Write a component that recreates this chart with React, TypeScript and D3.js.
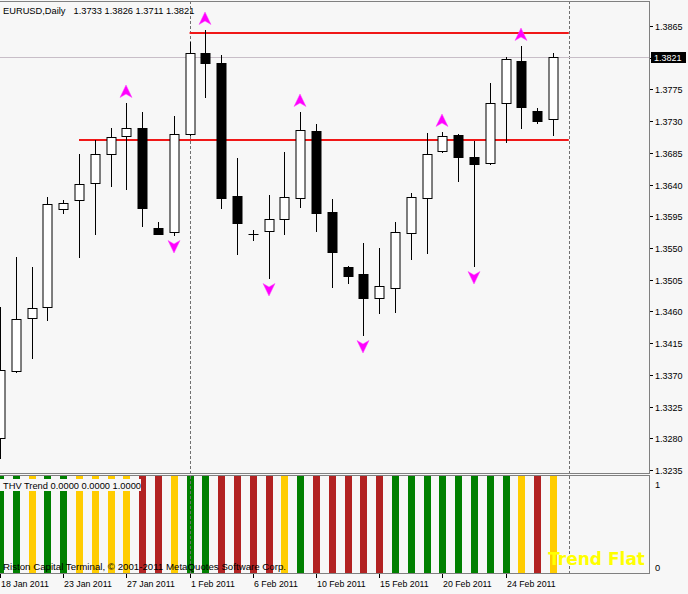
import React from "react";
import * as d3 from "d3";

// ---- data ----
const dates = [
  "18 Jan 2011","19 Jan 2011","20 Jan 2011","21 Jan 2011","23 Jan 2011","24 Jan 2011","25 Jan 2011","26 Jan 2011",
  "27 Jan 2011","28 Jan 2011","30 Jan 2011","31 Jan 2011","1 Feb 2011","2 Feb 2011","3 Feb 2011","4 Feb 2011",
  "6 Feb 2011","7 Feb 2011","8 Feb 2011","9 Feb 2011","10 Feb 2011","11 Feb 2011","13 Feb 2011","14 Feb 2011",
  "15 Feb 2011","16 Feb 2011","17 Feb 2011","18 Feb 2011","20 Feb 2011","21 Feb 2011","22 Feb 2011","23 Feb 2011",
  "24 Feb 2011","25 Feb 2011","27 Feb 2011","28 Feb 2011",
];
const opens = [1.3280,1.3376,1.3451,1.3466,1.3605,1.3618,1.3642,1.3683,1.3709,1.3720,1.3578,1.3573,1.3712,1.3827,1.3813,1.3624,1.3570,1.3574,1.3591,1.3621,1.3716,1.3601,1.3523,1.3513,1.3479,1.3493,1.3571,1.3621,1.3688,1.3710,1.3679,1.3671,1.3756,1.3815,1.3744,1.3733];
const highs = [1.3466,1.3537,1.3523,1.3622,1.3618,1.3683,1.3703,1.3720,1.3756,1.3743,1.3587,1.3737,1.3842,1.3859,1.3824,1.3678,1.3576,1.3625,1.3686,1.3743,1.3726,1.3620,1.3525,1.3557,1.3550,1.3587,1.3628,1.3713,1.3715,1.3712,1.3702,1.3784,1.3821,1.3837,1.3749,1.3826];
const lows = [1.3252,1.3374,1.3394,1.3448,1.3600,1.3537,1.3570,1.3638,1.3634,1.3581,1.3570,1.3569,1.3710,1.3764,1.3607,1.3542,1.3561,1.3508,1.3570,1.3608,1.3574,1.3495,1.3500,1.3427,1.3458,1.3459,1.3534,1.3543,1.3686,1.3645,1.3525,1.3669,1.3700,1.3720,1.3727,1.3711];
const closes = [1.3377,1.3449,1.3465,1.3612,1.3614,1.3641,1.3683,1.3708,1.3720,1.3607,1.3570,1.3712,1.3827,1.3813,1.3621,1.3586,1.3570,1.3591,1.3622,1.3717,1.3600,1.3544,1.3510,1.3479,1.3496,1.3573,1.3622,1.3683,1.3709,1.3679,1.3669,1.3756,1.3818,1.3750,1.3730,1.3821];
// THV trend state per bar: G = up, Y = flat, R = down
const trendState = ["G","G","Y","G","G","Y","Y","Y","Y","R","R","Y","G","G","R","R","R","R","Y","G","R","R","R","R","R","G","G","G","G","G","G","G","G","Y","R","Y"];
const upArrows = [8, 13, 19, 28, 33];
const downArrows = [11, 17, 23, 30];
const levels = [
  { price: 1.3855, from: 12, to: 36 },
  { price: 1.3703, from: 5, to: 36 },
];
const separators = [12, 36];
const priceTicks = [1.3865,1.3820,1.3775,1.3730,1.3685,1.3640,1.3595,1.3550,1.3505,1.3460,1.3415,1.3370,1.3325,1.3280,1.3235];
const dateTickEvery = 4;
const lastPrice = 1.3821;
const title = "EURUSD,Daily  1.3733 1.3826 1.3711 1.3821";
const indTitle = "THV Trend 0.0000 0.0000 1.0000";
const copyright = "Riston Capital Terminal, \u00A9 2001-2011 MetaQuotes Software Corp.";
const trendLabel = "Trend Flat";

const W = 688, H = 594;
const plotRight = 649;
const mainTop = 1, mainBottom = 473;
const indTop = 476, indBottom = 573;
const colors: Record<string, string> = { G: "#008000", Y: "#FFCC00", R: "#B22222" };
const BG = "#F7F7F7";
const FONT = "'Liberation Sans', Arial, sans-serif";

export default function App() {
  const x = d3.scaleLinear().domain([0, 35]).range([0, 553]);
  const y = d3.scaleLinear().domain([1.3235, 1.3865]).range([470, 26]);
  const yi = d3.scaleLinear().domain([0, 1]).range([indBottom, indTop]);
  const yiLabel = d3.scaleLinear().domain([0, 1]).range([567, 484]);
  const px = (v: number) => Math.round(v) + 0.5;
  const upPath = "M0,-6.5 L6,6 L0,2.5 L-6,6 Z";
  const downPath = "M0,6.5 L6,-6 L0,-2.5 L-6,-6 Z";

  return (
    <svg width={W} height={H} style={{ position: "absolute", left: 0, top: 0, background: BG }} fontFamily={FONT}>
      <defs>
        <clipPath id="mainClip"><rect x={0} y={mainTop} width={plotRight} height={mainBottom - mainTop} /></clipPath>
        <clipPath id="indClip"><rect x={0} y={indTop} width={plotRight} height={indBottom - indTop} /></clipPath>
      </defs>
      <rect x={0} y={0} width={W} height={H} fill={BG} />

      {/* main panel */}
      <g clipPath="url(#mainClip)">
        {separators.map((s) => (
          <line key={"s" + s} x1={px(x(s))} x2={px(x(s))} y1={mainTop} y2={mainBottom} stroke="#707070" strokeDasharray="3,2" />
        ))}
        <line x1={0} x2={plotRight} y1={px(y(lastPrice))} y2={px(y(lastPrice))} stroke="#C8BEC8" />
        {levels.map((l, i) => (
          <line key={"l" + i} x1={x(l.from)} x2={x(l.to)} y1={Math.round(y(l.price))} y2={Math.round(y(l.price))} stroke="#F01818" strokeWidth={2} />
        ))}
        {opens.map((o, i) => {
          const c = closes[i];
          const cx = px(x(i));
          const top = Math.round(y(Math.max(o, c)));
          const bot = Math.round(y(Math.min(o, c)));
          const bull = c >= o;
          return (
            <g key={"c" + i}>
              <line x1={cx} x2={cx} y1={Math.round(y(highs[i]))} y2={Math.round(y(lows[i])) + 1} stroke="#000" />
              {bot - top < 1 ? (
                <line x1={cx - 5} x2={cx + 5} y1={top + 0.5} y2={top + 0.5} stroke="#000" />
              ) : (
                <rect x={cx - 4.5} y={top + 0.5} width={9} height={bot - top} fill={bull ? "#FFFFFF" : "#000"} stroke="#000" />
              )}
            </g>
          );
        })}
        {upArrows.map((i) => (
          <path key={"u" + i} d={upPath} transform={`translate(${Math.round(x(i))},${Math.round(y(highs[i])) - 11.5})`} fill="#FF00FF" stroke="#FF40FF" strokeWidth={0.5} />
        ))}
        {downArrows.map((i) => (
          <path key={"d" + i} d={downPath} transform={`translate(${Math.round(x(i))},${Math.round(y(lows[i])) + 11.5})`} fill="#FF00FF" stroke="#FF40FF" strokeWidth={0.5} />
        ))}
      </g>
      <text x={3} y={14} fontSize={9.3} fill="#000">{title.split("  ")[0]}<tspan dx={8}>{title.split("  ")[1]}</tspan></text>

      {/* indicator panel */}
      <g clipPath="url(#indClip)">
        {trendState.map((s, i) => (
          <rect key={"h" + i} x={Math.round(x(i)) - 3} y={yi(1)} width={7} height={yi(0) - yi(1)} fill={colors[s]} />
        ))}
        {separators.map((s) => (
          <line key={"si" + s} x1={px(x(s))} x2={px(x(s))} y1={indTop} y2={indBottom} stroke="#707070" strokeDasharray="3,2" />
        ))}
      </g>
      <rect x={0} y={479} width={141} height={12} fill={BG} />
      <text x={3} y={489} fontSize={9.3} fill="#000">{indTitle}</text>
      <text x={3} y={570} fontSize={9.7} fill="#000">{copyright}</text>
      <text x={645} y={565} fontSize={17} fontWeight="bold" fill="#FFFF00" textAnchor="end" fontFamily="'DejaVu Sans', Verdana, sans-serif">{trendLabel}</text>

      {/* frames */}
      <line x1={0} x2={plotRight} y1={1.5} y2={1.5} stroke="#808080" />
      <line x1={0} x2={plotRight} y1={mainBottom + 0.5} y2={mainBottom + 0.5} stroke="#808080" />
      <line x1={0} x2={plotRight} y1={indTop - 0.5} y2={indTop - 0.5} stroke="#808080" />
      <line x1={0} x2={plotRight} y1={indBottom + 0.5} y2={indBottom + 0.5} stroke="#808080" />
      <line x1={plotRight + 0.5} x2={plotRight + 0.5} y1={1} y2={mainBottom + 1} stroke="#808080" />
      <line x1={plotRight + 0.5} x2={plotRight + 0.5} y1={indTop - 1} y2={indBottom + 1} stroke="#808080" />

      {/* price axis */}
      {priceTicks.map((t) => (
        <g key={"t" + t}>
          <line x1={plotRight + 1} x2={plotRight + 4} y1={px(y(t))} y2={px(y(t))} stroke="#000" />
          <text x={655} y={Math.round(y(t)) + 3.5} fontSize={9} fill="#000">{t.toFixed(4)}</text>
        </g>
      ))}
      <rect x={651} y={Math.round(y(lastPrice)) - 5} width={35} height={11} fill="#000" />
      <text x={654} y={Math.round(y(lastPrice)) + 3.5} fontSize={9} fill="#FFF">{lastPrice.toFixed(4)}</text>

      {/* indicator axis */}
      {[1, 0].map((v) => (
        <text key={"iv" + v} x={655} y={yiLabel(v) + 3.5} fontSize={9.3} fill="#000">{v}</text>
      ))}

      {/* date axis */}
      {dates.map((d, i) =>
        i % dateTickEvery === 0 ? (
          <g key={"dt" + i}>
            <line x1={px(x(i))} x2={px(x(i))} y1={indBottom + 1} y2={indBottom + 5} stroke="#000" />
            <text x={Math.round(x(i)) + 1} y={587} fontSize={8.8} fill="#000">{d}</text>
          </g>
        ) : null
      )}
    </svg>
  );
}
